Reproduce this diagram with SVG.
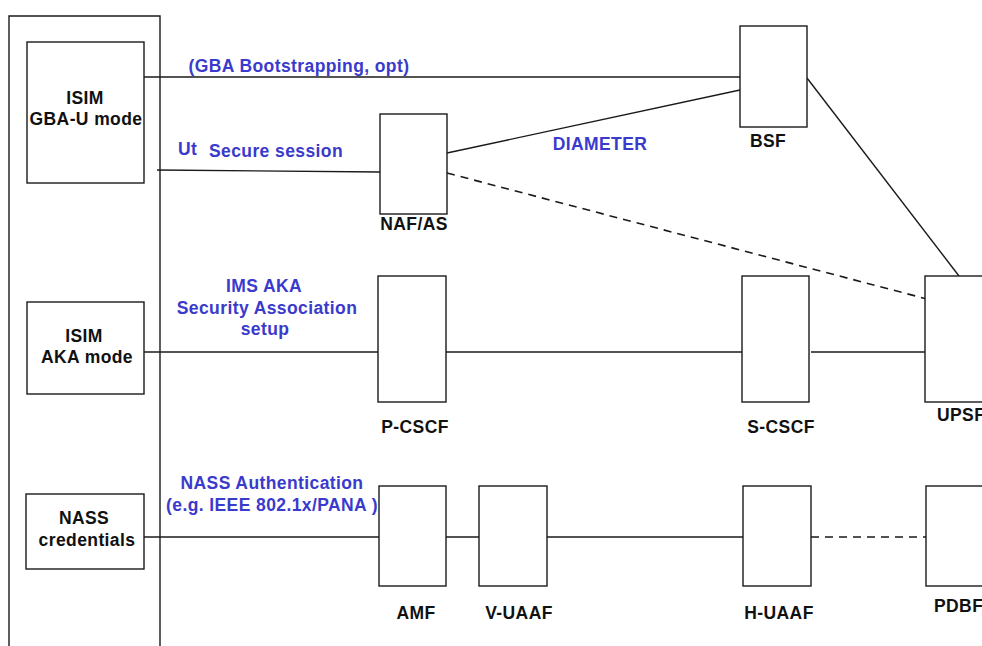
<svg xmlns="http://www.w3.org/2000/svg" width="982" height="646" viewBox="0 0 982 646">
<style>
.box{fill:#fff;stroke:#1a1a1a;stroke-width:1.4}
.ln{fill:none;stroke:#1a1a1a;stroke-width:1.4}
.dash{fill:none;stroke:#1a1a1a;stroke-width:1.6;stroke-dasharray:8 6}
.t{font-family:"Liberation Sans",Arial,sans-serif;font-weight:bold;font-size:17.5px;letter-spacing:0.4px;fill:#111}
.b{font-family:"Liberation Sans",Arial,sans-serif;font-weight:bold;font-size:17.5px;letter-spacing:0.4px;fill:#3a3acc}
.m{text-anchor:middle}
</style>
<rect width="982" height="646" fill="#fff"/>
<g id="ue">
<path class="ln" d="M9,646 V16 H160 V646"/>
</g>
<g id="connectors">
<line class="ln" x1="144" y1="77" x2="740" y2="77"/>
<line class="ln" x1="157" y1="170" x2="380" y2="172"/>
<line class="ln" x1="447" y1="153" x2="740" y2="90"/>
<line class="ln" x1="807" y1="78" x2="959" y2="276"/>
<line class="dash" x1="447" y1="173" x2="927" y2="299"/>
<line class="ln" x1="144" y1="352" x2="745" y2="352"/>
<line class="ln" x1="811" y1="352" x2="929" y2="352"/>
<line class="ln" x1="144" y1="537" x2="743" y2="537"/>
<line class="dash" x1="811" y1="537" x2="926" y2="537"/>
</g>
<g id="isim-gba">
<rect class="box" x="27" y="42" width="117" height="141"/>
<text class="t m" x="85" y="104">ISIM</text>
<text class="t m" x="86" y="125">GBA-U mode</text>
</g>
<g id="isim-aka">
<rect class="box" x="27" y="302" width="117" height="92"/>
<text class="t m" x="84" y="342">ISIM</text>
<text class="t m" x="87" y="363">AKA mode</text>
</g>
<g id="nass-cred">
<rect class="box" x="26" y="494" width="118" height="75"/>
<text class="t m" x="84" y="524">NASS</text>
<text class="t m" x="87" y="546">credentials</text>
</g>
<g id="naf">
<rect class="box" x="380" y="114" width="67" height="100"/>
<text class="t m" x="414" y="230">NAF/AS</text>
</g>
<g id="bsf">
<rect class="box" x="740" y="26" width="67" height="101"/>
<text class="t m" x="768" y="147">BSF</text>
</g>
<g id="pcscf">
<rect class="box" x="378" y="276" width="68" height="126"/>
<text class="t m" x="415" y="433">P-CSCF</text>
</g>
<g id="scscf">
<rect class="box" x="742" y="276" width="67" height="126"/>
<text class="t m" x="781" y="433">S-CSCF</text>
</g>
<g id="upsf">
<rect class="box" x="925" y="276" width="80" height="126"/>
<text class="t" x="937" y="421">UPSF</text>
</g>
<g id="amf">
<rect class="box" x="379" y="486" width="67" height="100"/>
<text class="t m" x="416" y="619">AMF</text>
</g>
<g id="vuaaf">
<rect class="box" x="479" y="486" width="68" height="100"/>
<text class="t m" x="519" y="619">V-UAAF</text>
</g>
<g id="huaaf">
<rect class="box" x="743" y="486" width="68" height="100"/>
<text class="t m" x="779" y="619">H-UAAF</text>
</g>
<g id="pdbf">
<rect class="box" x="926" y="486" width="80" height="100"/>
<text class="t" x="934" y="612">PDBF</text>
</g>
<g id="labels">
<text class="b m" x="299" y="72">(GBA Bootstrapping, opt)</text>
<text class="b" x="178" y="155">Ut</text>
<text class="b m" x="276" y="157">Secure session</text>
<text class="b m" x="600" y="150">DIAMETER</text>
<text class="b m" x="264" y="292">IMS AKA</text>
<text class="b m" x="267" y="314">Security Association</text>
<text class="b m" x="265" y="335">setup</text>
<text class="b m" x="272" y="489">NASS Authentication</text>
<text class="b m" x="272" y="511">(e.g. IEEE 802.1x/PANA )</text>
</g>
</svg>
